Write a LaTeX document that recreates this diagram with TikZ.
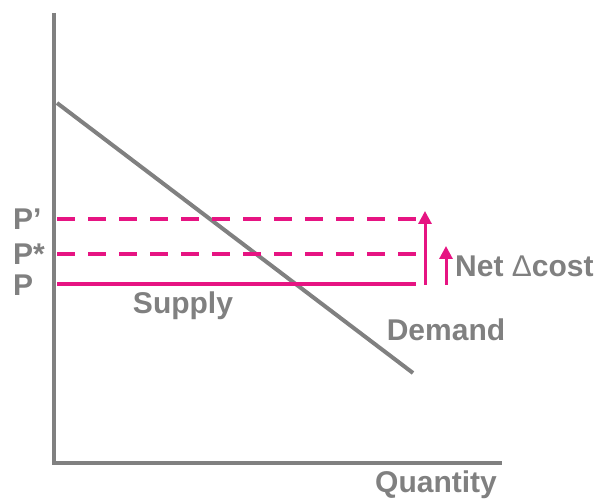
\documentclass[tikz,border=0pt]{standalone}
\usepackage{fontspec}
\setmainfont{Liberation Sans}
\usepackage{tikz}
\usetikzlibrary{arrows.meta}

\definecolor{axisgray}{RGB}{128,128,128}
\definecolor{costpink}{RGB}{230,20,130}

\begin{document}
\begin{tikzpicture}[x=1pt, y=1pt,
    lbl/.style={text=axisgray, font=\bfseries\fontsize{30}{32}\selectfont, inner sep=0pt},
    axisline/.style={draw=axisgray, line width=4pt},
    priceline/.style={draw=costpink, line width=3.5pt},
    risearrow/.style={draw=costpink, line width=3pt, -{Triangle[length=13pt, width=13pt]}}]
\useasboundingbox (0, 0) rectangle (606, 500);
% axes
\coordinate (top) at (54, 487);
\coordinate (origin) at (54, 37);
\coordinate (right) at (502, 37);
\draw[axisline] (top) -- (origin) -- (right);
% demand curve
\coordinate (dstart) at (57, 397);
\coordinate (dend) at (413, 127);
\draw[axisline] (dstart) -- (dend);
% price levels
\draw[priceline, dash pattern=on 18pt off 13pt] (57, 281) -- (416, 281);
\draw[priceline, dash pattern=on 18pt off 13pt] (57, 246) -- (416, 246);
\draw[priceline] (57, 216) -- (416, 216);
% cost increases
\coordinate (bigfoot) at (425, 215);
\coordinate (bigtip) at (425, 289);
\coordinate (smallfoot) at (446, 215);
\coordinate (smalltip) at (446, 254);
\draw[risearrow] (bigfoot) -- (bigtip);
\draw[risearrow] (smallfoot) -- (smalltip);
% labels
\node[lbl, anchor=west] (pprime) at (13, 281) {P’};
\node[lbl, anchor=west] (pstar) at (13, 246) {P*};
\node[lbl, anchor=west] (pbase) at (13, 215) {P};
\node[lbl] (supply) at (183, 194) {Supply};
\node[lbl] (demand) at (446, 170) {Demand};
\node[lbl] (quantity) at (436, 15) {Quantity};
\node[lbl, anchor=west] (netcost) at (455, 234) {Net {\mdseries Δ}cost};
\end{tikzpicture}
\end{document}
